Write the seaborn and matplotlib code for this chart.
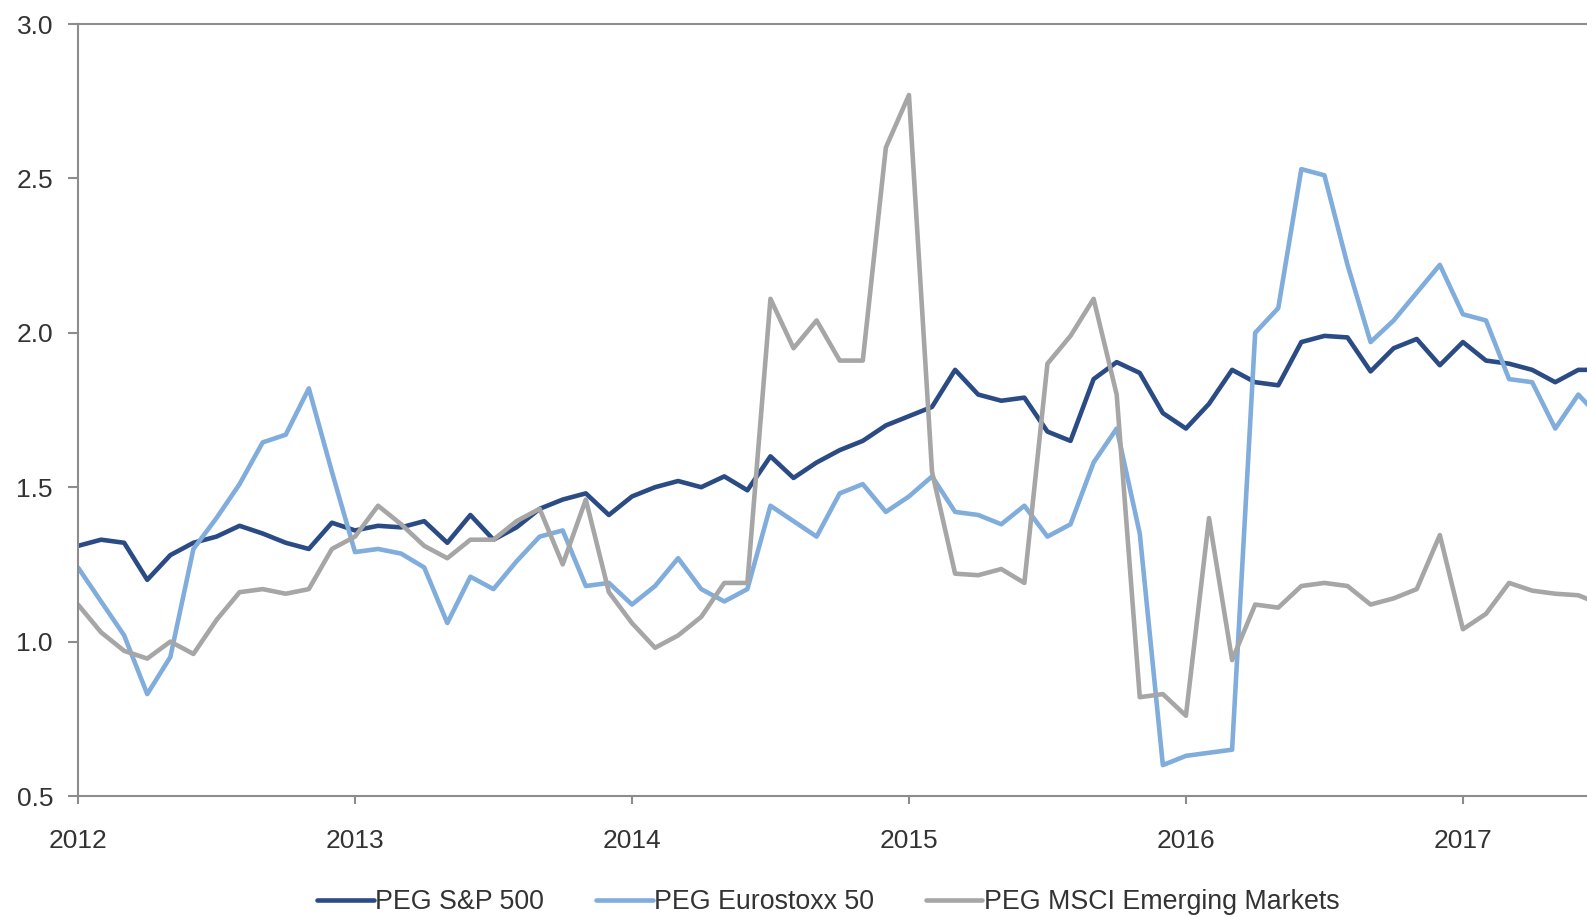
import numpy as np
import pandas as pd
import matplotlib
matplotlib.use("Agg")
import matplotlib.pyplot as plt
import seaborn as sns

# Monthly observations starting January 2012
sp500 = [1.31, 1.33, 1.32, 1.20, 1.28, 1.32, 1.34, 1.375, 1.35, 1.32, 1.30, 1.385,
         1.36, 1.375, 1.37, 1.39, 1.32, 1.41, 1.33, 1.37, 1.43, 1.46, 1.48, 1.41,
         1.47, 1.50, 1.52, 1.50, 1.535, 1.49, 1.60, 1.53, 1.58, 1.62, 1.65, 1.70,
         1.73, 1.76, 1.88, 1.80, 1.78, 1.79, 1.68, 1.65, 1.85, 1.905, 1.87, 1.74,
         1.69, 1.77, 1.88, 1.84, 1.83, 1.97, 1.99, 1.985, 1.875, 1.95, 1.98, 1.895,
         1.97, 1.91, 1.90, 1.88, 1.84, 1.88, 1.88]
eurostoxx = [1.24, 1.13, 1.02, 0.83, 0.95, 1.30, 1.40, 1.51, 1.645, 1.67, 1.82, 1.55,
             1.29, 1.30, 1.285, 1.24, 1.06, 1.21, 1.17, 1.26, 1.34, 1.36, 1.18, 1.19,
             1.12, 1.18, 1.27, 1.17, 1.13, 1.17, 1.44, 1.39, 1.34, 1.48, 1.51, 1.42,
             1.47, 1.535, 1.42, 1.41, 1.38, 1.44, 1.34, 1.38, 1.58, 1.69, 1.35, 0.60,
             0.63, 0.64, 0.65, 2.00, 2.08, 2.53, 2.51, 2.22, 1.97, 2.04, 2.13, 2.22,
             2.06, 2.04, 1.85, 1.84, 1.69, 1.80, 1.72]
msci_em = [1.12, 1.03, 0.97, 0.945, 1.00, 0.96, 1.07, 1.16, 1.17, 1.155, 1.17, 1.30,
           1.34, 1.44, 1.38, 1.31, 1.27, 1.33, 1.33, 1.39, 1.43, 1.25, 1.46, 1.16,
           1.06, 0.98, 1.02, 1.08, 1.19, 1.19, 2.11, 1.95, 2.04, 1.91, 1.91, 2.60,
           2.77, 1.55, 1.22, 1.215, 1.235, 1.19, 1.90, 1.99, 2.11, 1.80, 0.82, 0.83,
           0.76, 1.40, 0.94, 1.12, 1.11, 1.18, 1.19, 1.18, 1.12, 1.14, 1.17, 1.345,
           1.04, 1.09, 1.19, 1.165, 1.155, 1.15, 1.12]

series_names = ["PEG S&P 500", "PEG Eurostoxx 50", "PEG MSCI Emerging Markets"]
year_ticks = [2012, 2013, 2014, 2015, 2016, 2017]
y_ticks = [0.5, 1.0, 1.5, 2.0, 2.5, 3.0]
start_year = 2012

months = np.arange(len(sp500))
t = start_year + months / 12.0
df = pd.concat([
    pd.DataFrame({"t": t, "value": sp500, "series": series_names[0]}),
    pd.DataFrame({"t": t, "value": eurostoxx, "series": series_names[1]}),
    pd.DataFrame({"t": t, "value": msci_em, "series": series_names[2]}),
])

sns.set_theme(style="white")
plt.rcParams["font.family"] = ["Liberation Sans", "DejaVu Sans"]

palette = {series_names[0]: "#2B4B85", series_names[1]: "#80ADDC", series_names[2]: "#A6A6A6"}

fig = plt.figure(figsize=(15.87, 9.17), dpi=100)
ax = fig.add_axes([78 / 1587, 1 - 796 / 917, 1 - 78 / 1587, (796 - 24) / 917])

sns.lineplot(data=df, x="t", y="value", hue="series", palette=palette,
             linewidth=3.3, ax=ax, legend=True, sort=False)
for ln in ax.get_lines():
    ln.set_solid_joinstyle("round")
    ln.set_solid_capstyle("round")

ax.set_xlim(2012, 2017.448)
ax.set_ylim(0.5, 3.0)
ax.set_xticks(year_ticks)
ax.set_xticklabels([str(y) for y in year_ticks])
ax.set_yticks(y_ticks)
ax.set_yticklabels([f"{v:.1f}" for v in y_ticks])
ax.set_xlabel("")
ax.set_ylabel("")

spine_color = "#8C8C8C"
for side in ["left", "bottom", "top"]:
    ax.spines[side].set_visible(True)
    ax.spines[side].set_color(spine_color)
    ax.spines[side].set_linewidth(1.5)
ax.spines["right"].set_visible(False)

ax.tick_params(axis="x", which="both", length=6, width=1.5, color=spine_color,
               direction="out", pad=18, labelsize=19, labelcolor="#333333", bottom=True)
ax.tick_params(axis="y", which="both", length=7, width=1.5, color=spine_color,
               direction="out", pad=11, labelsize=19, labelcolor="#333333", left=True)
ax.grid(False)

handles, labels = ax.get_legend_handles_labels()
ax.get_legend().remove()
fig.legend(handles, labels, loc="center", bbox_to_anchor=(0.522, 1 - 902 / 917),
           ncol=3, frameon=False, fontsize=19.3, handlelength=2.1, handletextpad=0.05,
           columnspacing=1.95, labelcolor="#333333")

fig.savefig("out.png", dpi=100)
